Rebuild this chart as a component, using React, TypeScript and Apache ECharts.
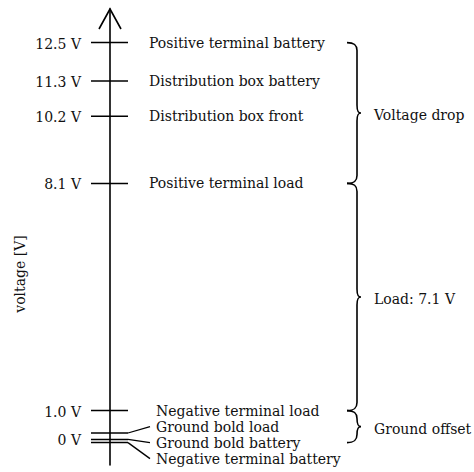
import React, { useEffect, useRef } from 'react';
import * as echarts from 'echarts';

// ---- data ----
const pointNames = [
  'Positive terminal battery',
  'Distribution box battery',
  'Distribution box front',
  'Positive terminal load',
  'Negative terminal load',
  'Ground bold load',
  'Ground bold battery',
  'Negative terminal battery',
];
const pointVoltages = [12.5, 11.3, 10.2, 8.1, 1.0, 0.3, 0.1, 0];
const tickLabels = ['12.5 V', '11.3 V', '10.2 V', '8.1 V', '1.0 V', '', '0 V', ''];

const groupNames = ['Voltage drop', 'Load: 7.1 V', 'Ground offset'];
const groupFrom = [12.5, 8.1, 1.0];
const groupTo = [8.1, 1.0, 0];

const axisName = 'voltage [V]';
const axisMin = -0.7;
const axisMax = 13.55;

// ---- style ----
const FONT = '14px "DejaVu Serif"';
const INK = '#111';
const CROWD_LIMIT = 1.0;
const ROW_GAP = 16;

export default function App() {
  const ref = useRef<HTMLDivElement>(null);

  useEffect(() => {
    const chart = echarts.init(ref.current!, null, { renderer: 'svg' });
    const firstCrowded = pointVoltages.findIndex((v) => v <= CROWD_LIMIT);

    const option: any = {
      animation: false,
      backgroundColor: '#fff',
      grid: { left: 110, right: 10, top: 9, bottom: 7 },
      xAxis: { type: 'value', min: 0, max: 1, show: false },
      yAxis: {
        type: 'value',
        min: axisMin,
        max: axisMax,
        axisLine: { show: true, onZero: false, lineStyle: { color: '#000', width: 1.6 } },
        axisTick: { show: false },
        axisLabel: { show: false },
        splitLine: { show: false },
      },
      graphic: [
        {
          type: 'text',
          x: 20,
          y: 274,
          rotation: Math.PI / 2,
          style: { text: axisName, font: FONT, fill: INK, align: 'center', verticalAlign: 'middle' },
        },
      ],
      series: [
        {
          type: 'custom',
          name: 'points',
          silent: true,
          clip: false,
          data: pointVoltages.map((v) => [0, v]),
          encode: { x: 0, y: 1 },
          renderItem: (params: any, api: any) => {
            const i = params.dataIndex;
            const v = api.value(1);
            const [ax, y] = api.coord([0, v]);
            const children: any[] = [];
            children.push({
              type: 'line',
              shape: { x1: ax - 19, y1: y, x2: ax + 18, y2: y },
              style: { stroke: '#000', lineWidth: 1.5 },
            });
            if (tickLabels[i]) {
              children.push({
                type: 'text',
                style: {
                  text: tickLabels[i],
                  x: ax - 29,
                  y: y + 1,
                  font: FONT,
                  fill: INK,
                  align: 'right',
                  verticalAlign: 'middle',
                },
              });
            }
            let lx = ax + 39;
            let ly = y;
            if (firstCrowded >= 0 && i >= firstCrowded) {
              const baseY = api.coord([0, pointVoltages[firstCrowded]])[1];
              lx = ax + 46;
              ly = baseY + (i - firstCrowded) * ROW_GAP;
              if (Math.abs(ly - y) > 1) {
                children.push({
                  type: 'line',
                  shape: { x1: ax + 18, y1: y, x2: ax + 40, y2: ly },
                  style: { stroke: '#000', lineWidth: 1.3 },
                });
              }
            }
            children.push({
              type: 'text',
              style: {
                text: pointNames[i],
                x: lx,
                y: ly,
                font: FONT,
                fill: INK,
                align: 'left',
                verticalAlign: 'middle',
              },
            });
            return { type: 'group', children };
          },
        },
        {
          type: 'custom',
          name: 'braces',
          silent: true,
          clip: false,
          data: groupFrom.map((f, i) => [0, f, groupTo[i]]),
          encode: { x: 0, y: [1, 2] },
          renderItem: (params: any, api: any) => {
            const i = params.dataIndex;
            const [ax, y0] = api.coord([0, api.value(1)]);
            const y1 = api.coord([0, api.value(2)])[1];
            const ym = (y0 + y1) / 2;
            const xh = ax + 237;
            const xs = ax + 247;
            const xt = ax + 251;
            const r = Math.min(8, (y1 - y0) / 4);
            const d = [
              `M ${xh} ${y0}`,
              `C ${xs - 3} ${y0} ${xs} ${y0 + 2} ${xs} ${y0 + r}`,
              `L ${xs} ${ym - r}`,
              `C ${xs} ${ym - 2} ${xs + 1} ${ym} ${xt} ${ym}`,
              `C ${xs + 1} ${ym} ${xs} ${ym + 2} ${xs} ${ym + r}`,
              `L ${xs} ${y1 - r}`,
              `C ${xs} ${y1 - 2} ${xs - 3} ${y1} ${xh} ${y1}`,
            ].join(' ');
            return {
              type: 'group',
              children: [
                {
                  type: 'path',
                  shape: { pathData: d },
                  style: { stroke: '#000', fill: 'none', lineWidth: 1.6 },
                },
                {
                  type: 'text',
                  style: {
                    text: groupNames[i],
                    x: ax + 264,
                    y: ym + 2,
                    font: FONT,
                    fill: INK,
                    align: 'left',
                    verticalAlign: 'middle',
                  },
                },
              ],
            };
          },
        },
        {
          type: 'custom',
          name: 'arrow',
          silent: true,
          clip: false,
          data: [[0, axisMax]],
          encode: { x: 0, y: 1 },
          renderItem: (params: any, api: any) => {
            const [ax, top] = api.coord([0, api.value(1)]);
            return {
              type: 'polyline',
              shape: { points: [[ax - 11, top + 20], [ax, top], [ax + 11, top + 20]] },
              style: { stroke: '#000', fill: 'none', lineWidth: 1.6 },
            };
          },
        },
      ],
    };
    chart.setOption(option);
    return () => chart.dispose();
  }, []);

  return (
    <div
      ref={ref}
      style={{ position: 'fixed', left: 0, top: 0, width: 474, height: 472, background: '#fff' }}
    />
  );
}
